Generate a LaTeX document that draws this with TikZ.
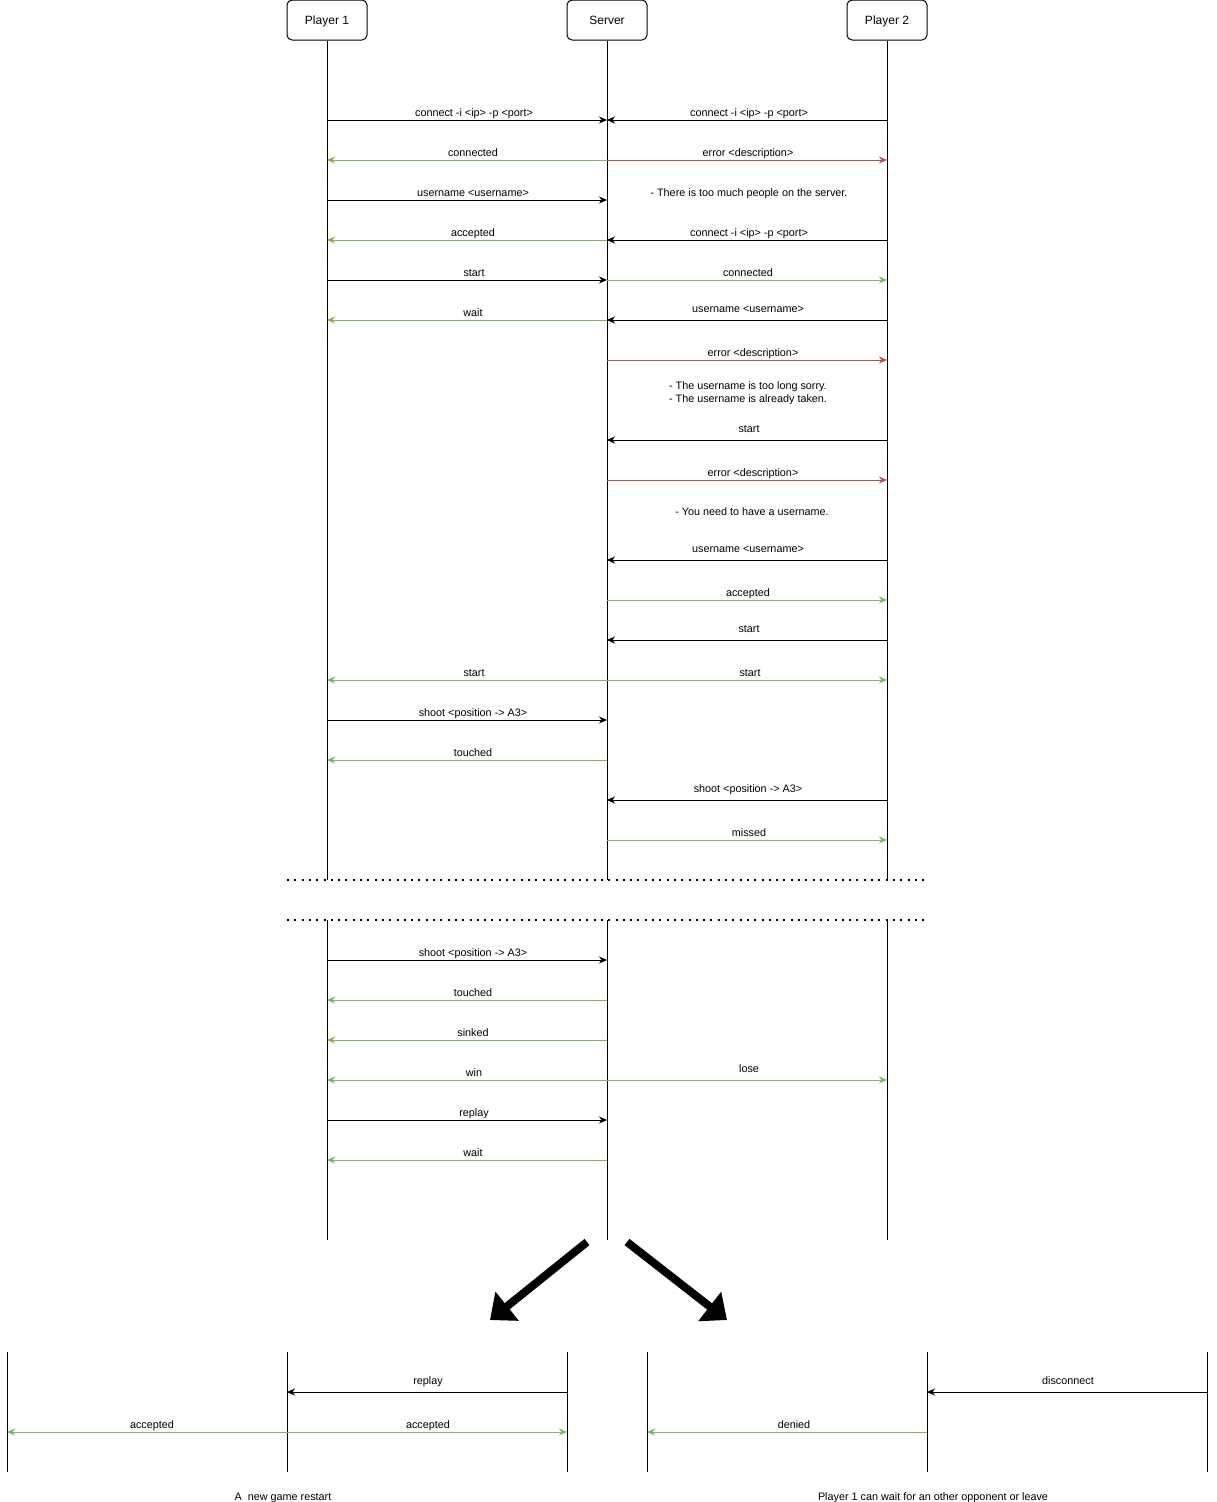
\documentclass[tikz,border=0pt]{standalone}
\usepackage{fontspec}
\setmainfont{Liberation Sans}
\usetikzlibrary{arrows.meta}
\definecolor{okgreen}{HTML}{82B366}
\definecolor{errred}{HTML}{B85450}
\tikzset{
  actor/.style={draw, rounded corners=5pt, minimum width=80pt, minimum height=40pt, font=\fontsize{12pt}{14pt}\selectfont, line width=1pt, text height=10pt, text depth=1pt},
  life/.style={line width=1pt},
  msg/.style={line width=1pt, -{Stealth[length=8pt,width=7pt,inset=2.5pt]}},
  okmsg/.style={msg, draw=okgreen, -{Stealth[length=8pt,width=7pt,inset=2.5pt,okgreen]}},
  errmsg/.style={msg, draw=errred, -{Stealth[length=8pt,width=7pt,inset=2.5pt,errred]}},
  lbl/.style={font=\fontsize{10.8pt}{13pt}\selectfont, inner sep=0pt, text height=9pt, text depth=1pt},
  note/.style={font=\fontsize{10.8pt}{13pt}\selectfont, inner sep=0pt, align=left},
  sep/.style={line width=2pt, dash pattern=on 2pt off 5.3pt},
  bigarrow/.style={line width=8pt, -{Triangle[length=22pt,width=36pt]}}
}
\begin{document}
\begin{tikzpicture}[x=1pt,y=-1pt]
\useasboundingbox (0,0) rectangle (1217,1502);
% actors
\node[actor] (P1) at (327,20) {Player 1};
\node[actor] (SV) at (607,20) {Server};
\node[actor] (P2) at (887,20) {Player 2};
% lifelines
\foreach \a in {P1,SV,P2}{
  \draw[life] (\a.south) -- (\a |- 0,880);
  \draw[life] (\a |- 0,920) -- (\a |- 0,1240);
}
% separators
\coordinate (s1a) at (287,880); \coordinate (s1b) at (925,880);
\coordinate (s2a) at (287,920); \coordinate (s2b) at (925,920);
\draw[sep] (s1a) -- (s1b);
\draw[sep] (s2a) -- (s2b);

% messages (upper part)
\draw[msg] (P1 |- 0,120) -- (SV |- 0,120);
\node[lbl] (l1) at (474,112) {connect -i <ip> -p <port>};
\draw[msg] (P2 |- 0,120) -- (SV |- 0,120);
\node[lbl] (l2) at (749,112) {connect -i <ip> -p <port>};

\draw[okmsg] (SV |- 0,160) -- (P1 |- 0,160);
\node[lbl] (l3) at (473,152) {connected};
\draw[errmsg] (SV |- 0,160) -- (P2 |- 0,160);
\node[lbl] (l4) at (748,152) {error <description>};

\draw[msg] (P1 |- 0,200) -- (SV |- 0,200);
\node[lbl] (l5) at (473,192) {username <username>};
\node[lbl] (n1) at (749,192) {- There is too much people on the server.};

\draw[okmsg] (SV |- 0,240) -- (P1 |- 0,240);
\node[lbl] (l6) at (473,232) {accepted};
\draw[msg] (P2 |- 0,240) -- (SV |- 0,240);
\node[lbl] (l7) at (749,232) {connect -i <ip> -p <port>};

\draw[msg] (P1 |- 0,280) -- (SV |- 0,280);
\node[lbl] (l8) at (474,272) {start};
\draw[okmsg] (SV |- 0,280) -- (P2 |- 0,280);
\node[lbl] (l9) at (748,272) {connected};

\draw[okmsg] (SV |- 0,320) -- (P1 |- 0,320);
\node[lbl] (l10) at (473,312) {wait};
\draw[msg] (P2 |- 0,320) -- (SV |- 0,320);
\node[lbl] (l11) at (748,308) {username <username>};

\draw[errmsg] (SV |- 0,360) -- (P2 |- 0,360);
\node[lbl] (l12) at (753,352) {error <description>};
\node[note] (n2) at (748,393) {- The username is too long sorry.\\[-0.5pt]- The username is already taken.};

\draw[msg] (P2 |- 0,440) -- (SV |- 0,440);
\node[lbl] (l13) at (749,428) {start};

\draw[errmsg] (SV |- 0,480) -- (P2 |- 0,480);
\node[lbl] (l14) at (753,472) {error <description>};
\node[lbl] (n3) at (752,511) {- You need to have a username.};

\draw[msg] (P2 |- 0,560) -- (SV |- 0,560);
\node[lbl] (l15) at (748,548) {username <username>};

\draw[okmsg] (SV |- 0,600) -- (P2 |- 0,600);
\node[lbl] (l16) at (748,592) {accepted};

\draw[msg] (P2 |- 0,640) -- (SV |- 0,640);
\node[lbl] (l17) at (749,628) {start};

\draw[okmsg] (SV |- 0,680) -- (P1 |- 0,680);
\node[lbl] (l18) at (474,672) {start};
\draw[okmsg] (SV |- 0,680) -- (P2 |- 0,680);
\node[lbl] (l19) at (750,672) {start};

\draw[msg] (P1 |- 0,720) -- (SV |- 0,720);
\node[lbl] (l20) at (473,712) {shoot <position -> A3>};

\draw[okmsg] (SV |- 0,760) -- (P1 |- 0,760);
\node[lbl] (l21) at (473,752) {touched};

\draw[msg] (P2 |- 0,800) -- (SV |- 0,800);
\node[lbl] (l22) at (748,788) {shoot <position -> A3>};

\draw[okmsg] (SV |- 0,840) -- (P2 |- 0,840);
\node[lbl] (l23) at (749,832) {missed};

% messages (lower part)
\draw[msg] (P1 |- 0,960) -- (SV |- 0,960);
\node[lbl] (l24) at (473,952) {shoot <position -> A3>};

\draw[okmsg] (SV |- 0,1000) -- (P1 |- 0,1000);
\node[lbl] (l25) at (473,992) {touched};

\draw[okmsg] (SV |- 0,1040) -- (P1 |- 0,1040);
\node[lbl] (l26) at (473,1032) {sinked};

\draw[okmsg] (SV |- 0,1080) -- (P1 |- 0,1080);
\node[lbl] (l27) at (474,1072) {win};
\draw[okmsg] (SV |- 0,1080) -- (P2 |- 0,1080);
\node[lbl] (l28) at (749,1068) {lose};

\draw[msg] (P1 |- 0,1120) -- (SV |- 0,1120);
\node[lbl] (l29) at (474,1112) {replay};

\draw[okmsg] (SV |- 0,1160) -- (P1 |- 0,1160);
\node[lbl] (l30) at (473,1152) {wait};

% big arrows
\coordinate (ba1) at (587,1242); \coordinate (bb1) at (490,1320);
\coordinate (ba2) at (627,1242); \coordinate (bb2) at (727,1320);
\draw[bigarrow] (ba1) -- (bb1);
\draw[bigarrow] (ba2) -- (bb2);

% bottom left scenario
\coordinate (A1) at (7,1352);   \coordinate (A1e) at (7,1472);
\coordinate (A2) at (287,1352); \coordinate (A2e) at (287,1472);
\coordinate (A3) at (567,1352); \coordinate (A3e) at (567,1472);
\draw[life] (A1) -- (A1e);
\draw[life] (A2) -- (A2e);
\draw[life] (A3) -- (A3e);
\draw[msg] (A3 |- 0,1392) -- (A2 |- 0,1392);
\node[lbl] (b1) at (428,1380) {replay};
\draw[okmsg] (A2 |- 0,1432) -- (A1 |- 0,1432);
\node[lbl] (b2) at (152,1424) {accepted};
\draw[okmsg] (A2 |- 0,1432) -- (A3 |- 0,1432);
\node[lbl] (b3) at (428,1424) {accepted};
\node[lbl] (c1) at (283,1496) {A\ \ new game restart};

% bottom right scenario
\coordinate (B1) at (647,1352);  \coordinate (B1e) at (647,1472);
\coordinate (B2) at (927,1352);  \coordinate (B2e) at (927,1472);
\coordinate (B3) at (1207,1352); \coordinate (B3e) at (1207,1472);
\draw[life] (B1) -- (B1e);
\draw[life] (B2) -- (B2e);
\draw[life] (B3) -- (B3e);
\draw[msg] (B3 |- 0,1392) -- (B2 |- 0,1392);
\node[lbl] (b4) at (1068,1380) {disconnect};
\draw[okmsg] (B2 |- 0,1432) -- (B1 |- 0,1432);
\node[lbl] (b5) at (794,1424) {denied};
\node[lbl] (c2) at (933,1496) {Player 1 can wait for an other opponent or leave};
\end{tikzpicture}
\end{document}
